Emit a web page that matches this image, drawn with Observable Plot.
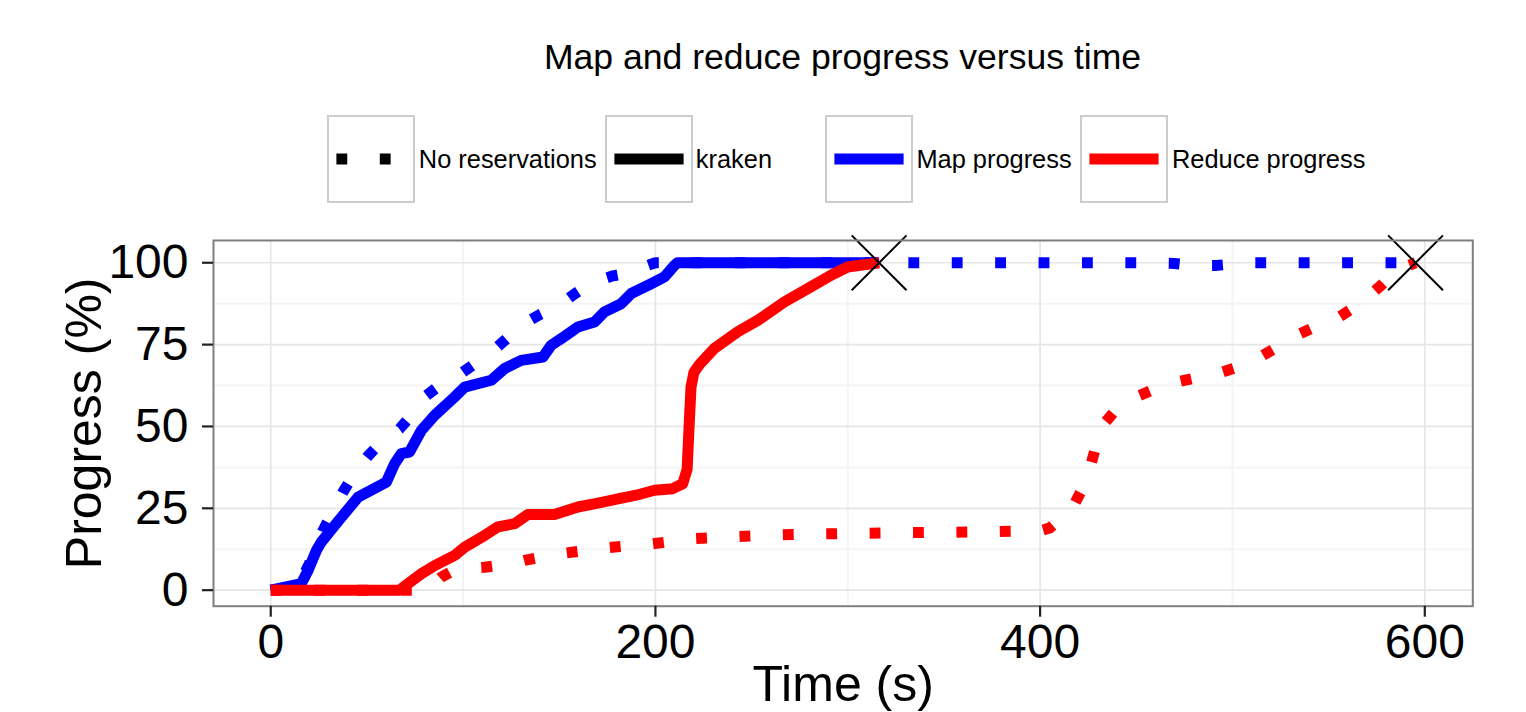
<!DOCTYPE html>
<html>
<head>
<meta charset="utf-8">
<script src="https://cdn.jsdelivr.net/npm/d3@7"></script>
<script src="https://cdn.jsdelivr.net/npm/@observablehq/plot@0.6"></script>
<style>
html, body { margin: 0; padding: 0; width: 1526px; height: 712px; overflow: hidden; background: #fff;
  font-family: "Liberation Sans", Arial, Helvetica, sans-serif; color: #000; }
#title { position: absolute; left: 0; width: 1685px; top: 39.9px; text-align: center; font-size: 35.6px; line-height: 1; white-space: nowrap; }
.key { position: absolute; top: 114.5px; width: 88px; height: 88px; box-sizing: border-box; border: 2px solid #cccccc; background: #fff; }
.key svg { display: block; }
.lab { position: absolute; top: 146.8px; font-size: 25.4px; line-height: 1; white-space: nowrap; }
#chart { position: absolute; left: 0; top: 220px; }
</style>
</head>
<body>
<div id="title"></div>
<div id="legend"></div>
<div id="chart"></div>
<script>
// ---- data ----
const titleText = "Map and reduce progress versus time";
const linetypeLabels = ["No reservations", "kraken"];
const colourLabels = ["Map progress", "Reduce progress"];
const xTicks = [0, 200, 400, 600];
const xMinor = [100, 300, 500];
const yTicks = [0, 25, 50, 75, 100];
const yMinor = [12.5, 37.5, 62.5, 87.5];
const xTitle = "Time (s)";
const yTitle = "Progress (%)";

// Map progress, no reservations (dotted blue)
const mapNoResT = [0, 10, 15, 20, 27, 37.6, 45, 50.6, 58, 67, 74, 81, 90, 98.7, 107, 116, 123, 130, 140, 150, 158, 167.5, 178, 188.8, 195, 200, 250, 300, 350, 400, 450, 470, 480, 492, 500, 505, 550, 595.2];
const mapNoResP = [0, 0.5, 2, 8, 18, 30, 37, 41, 45.5, 49.3, 54, 59.5, 63.5, 66.1, 69.5, 73.3, 77, 80.9, 84.2, 87, 90.5, 94.1, 96, 97.2, 99, 100, 100, 100, 100, 100, 100, 99.8, 99.2, 99.2, 99.6, 100, 100, 100];

// Map progress, kraken (solid blue)
const mapKrakenT = [0, 15.9, 19.4, 23.7, 26.3, 35, 45.4, 60.1, 64.4, 67.9, 72.2, 78.3, 85.2, 95.6, 100.8, 114.6, 121.6, 130.2, 141.5, 145.8, 151.0, 159.7, 168.3, 173.5, 182.2, 187.4, 197.8, 204.7, 209.9, 211.5, 316.3];
const mapKrakenP = [0, 2.0, 6.0, 12.1, 14.7, 21, 28.4, 33.0, 38.6, 41.7, 42.2, 48.8, 53.4, 59.0, 62.0, 64.1, 67.7, 70.2, 71.2, 74.8, 76.8, 80.4, 81.9, 85.0, 87.5, 90.6, 93.6, 95.7, 99.2, 100, 100];

// Reduce progress, no reservations (dotted red)
const reduceNoResT = [0, 80, 84, 88.7, 95, 105, 111.2, 125, 132, 140, 152.7, 175.3, 197.8, 219.4, 242.8, 265.3, 287.8, 310.3, 332.8, 355.3, 378.2, 400.4, 405, 410, 417.5, 422, 426.3, 429.5, 432.9, 440, 449.7, 460, 471.4, 482, 493, 503, 512.9, 522, 532, 542, 552.7, 561, 570.1, 578, 585.7, 595.2];
const reduceNoResP = [0, 0, 1.5, 4.0, 6, 6.8, 7.0, 8, 9.1, 10, 11.3, 13.0, 14.1, 15.7, 16.4, 16.9, 17.2, 17.4, 17.6, 17.7, 17.9, 18.2, 19, 21.5, 25.9, 31, 38.1, 45, 50.6, 55.5, 59.0, 61.5, 63.6, 65, 66.3, 68.2, 70.7, 73.8, 77.5, 80.2, 82.4, 85.5, 89.4, 93.5, 97.9, 100];

// Reduce progress, kraken (solid red)
const reduceKrakenT = [0, 67, 71.4, 78.3, 85.2, 95.6, 100.8, 111.2, 118.1, 126.8, 133.7, 147.5, 159.7, 170.1, 180.5, 190, 199.5, 209, 214.2, 216.5, 217.5, 218.5, 220, 223, 230.6, 242.8, 253.2, 267.0, 279.2, 291.3, 299.9, 316.3];
const reduceKrakenP = [0, 0, 2.0, 5.0, 7.5, 10.6, 13.1, 16.7, 19.3, 20.3, 23.1, 23.1, 25.4, 26.6, 27.9, 29, 30.5, 31.0, 32.5, 37, 50, 62, 66.5, 69, 73.8, 78.9, 82.4, 88.0, 92.1, 96.2, 98.7, 100];

// job completion markers
const endT = [316.3, 595.2];
const endP = [100, 100];

// ---- build tables ----
const toRows = (T, P) => T.map((t, i) => ({t, p: P[i]}));
const mapNoRes = toRows(mapNoResT, mapNoResP);
const mapKraken = toRows(mapKrakenT, mapKrakenP);
const reduceNoRes = toRows(reduceNoResT, reduceNoResP);
const reduceKraken = toRows(reduceKrakenT, reduceKrakenP);
const ends = toRows(endT, endP);

// ---- title & legend (HTML, above the svg) ----
document.getElementById("title").textContent = titleText;
const legend = document.getElementById("legend");
const DASH = "10.85,32.55";
const keys = [
  {left: 327.3, color: "#000", dash: DASH, label: linetypeLabels[0], labLeft: 418.8},
  {left: 604.6, color: "#000", dash: null, label: linetypeLabels[1], labLeft: 695.8},
  {left: 824.7, color: "#0000ff", dash: null, label: colourLabels[0], labLeft: 916.4},
  {left: 1079.7, color: "#ff0000", dash: null, label: colourLabels[1], labLeft: 1172}
];
const NS = "http://www.w3.org/2000/svg";
for (const k of keys) {
  const box = document.createElement("div");
  box.className = "key";
  box.style.left = k.left + "px";
  const s = document.createElementNS(NS, "svg");
  s.setAttribute("width", 84); s.setAttribute("height", 84);
  const ln = document.createElementNS(NS, "line");
  ln.setAttribute("x1", 7.4); ln.setAttribute("x2", 76.6);
  ln.setAttribute("y1", 42); ln.setAttribute("y2", 42);
  ln.setAttribute("stroke", k.color); ln.setAttribute("stroke-width", 11);
  if (k.dash) ln.setAttribute("stroke-dasharray", k.dash);
  s.appendChild(ln); box.appendChild(s); legend.appendChild(box);
  const lab = document.createElement("div");
  lab.className = "lab"; lab.style.left = k.labLeft + "px"; lab.textContent = k.label;
  legend.appendChild(lab);
}

// ---- chart ----
const lineStyle = {x: "t", y: "p", strokeWidth: 11, strokeLinecap: "butt", strokeLinejoin: "round"};
const chart = Plot.plot({
  width: 1526, height: 520,
  marginTop: 20, marginBottom: 134.3, marginLeft: 213, marginRight: 53.7,
  x: {domain: [-29.76, 624.96]},
  y: {domain: [-4.9, 106.8]},
  style: {fontFamily: "Liberation Sans, Arial, sans-serif", background: "transparent", overflow: "visible", color: "#000"},
  marks: [
    Plot.gridX(xMinor, {stroke: "#f4f4f4", strokeOpacity: 1, strokeWidth: 2}),
    Plot.gridY(yMinor, {stroke: "#f4f4f4", strokeOpacity: 1, strokeWidth: 2}),
    Plot.gridX(xTicks, {stroke: "#e6e6e6", strokeOpacity: 1, strokeWidth: 1.7}),
    Plot.gridY(yTicks, {stroke: "#e6e6e6", strokeOpacity: 1, strokeWidth: 1.7}),
    Plot.line(mapNoRes, {...lineStyle, stroke: "#0000ff", strokeDasharray: DASH}),
    Plot.line(mapKraken, {...lineStyle, stroke: "#0000ff"}),
    Plot.line(reduceNoRes, {...lineStyle, stroke: "#ff0000", strokeDasharray: DASH}),
    Plot.line(reduceKraken, {...lineStyle, stroke: "#ff0000"}),
    Plot.dot(ends, {x: "t", y: "p", symbol: "times", r: 25, stroke: "#000", strokeWidth: 2}),
    Plot.frame({stroke: "#7f7f7f", strokeWidth: 2}),
    Plot.axisX(xTicks, {tickSize: 11, tickPadding: 7, fontSize: 48, stroke: "#222", strokeWidth: 2.2, fill: "#000", label: null}),
    Plot.axisY(yTicks, {tickSize: 11, tickPadding: 14, fontSize: 48, stroke: "#222", strokeWidth: 2.2, fill: "#000", label: null}),
    Plot.text([xTitle], {text: d => d, frameAnchor: "bottom", lineAnchor: "bottom", textAnchor: "middle", dy: 94.5, fontSize: 50, fill: "#000"}),
    Plot.text([yTitle], {text: d => d, frameAnchor: "left", lineAnchor: "bottom", textAnchor: "middle", rotate: -90, dx: -113, fontSize: 50, fill: "#000"})
  ]
});
document.getElementById("chart").appendChild(chart);
</script>
</body>
</html>
